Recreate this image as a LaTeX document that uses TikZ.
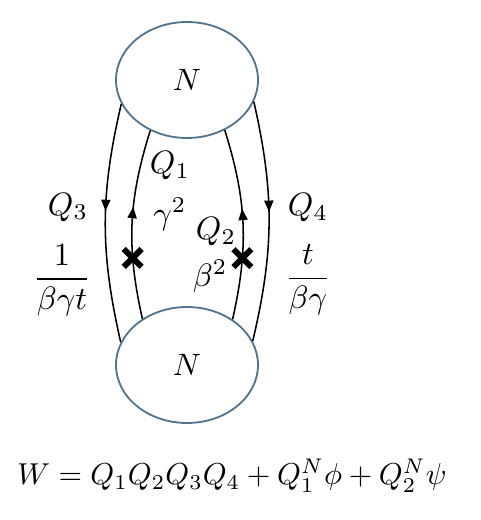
\documentclass[tikz,border=0pt]{standalone}
\usetikzlibrary{shapes.geometric,shapes.misc,arrows.meta,decorations.markings}
\definecolor{gaugeblue}{RGB}{84,116,142}

\begin{document}
\begin{tikzpicture}[x=1cm, y=1cm,
    gauge/.style={ellipse, draw=gaugeblue, line width=1.3pt, minimum width=3.55cm,
      minimum height=2.9cm, inner sep=0pt},
    big/.style={scale=2.3},
    field/.style={line width=1.1pt},
    flowtip/.style={postaction={decorate}, decoration={markings,
      mark=at position #1 with {\arrow{Triangle[length=8pt,width=6.5pt]}}}},
    mass/.style={cross out, draw, line width=4.2pt, minimum size=0.3cm, inner sep=0pt}]
  \useasboundingbox (0,0) rectangle (12,13);
  \node[gauge] (up) at (4.675,11.0) {\scalebox{2.2}{$N$}};
  \node[gauge] (down) at (4.675,3.875) {\scalebox{2.2}{$N$}};

  % bifundamentals: Q_3 and Q_4 run down, Q_1 and Q_2 run up
  \draw[field, flowtip=0.45] (up.200) to[bend right=13] (down.161);
  \draw[field, flowtip=0.59] (down.134) to[bend left=15] node[mass, pos=0.31] (m1) {} (up.234);
  \draw[field, flowtip=0.58] (down.45) to[bend right=15] node[mass, pos=0.31] (m2) {} (up.307);
  \draw[field, flowtip=0.46] (up.342) to[bend left=13] (down.20);

  % charges
  \node[big] (q3) at (1.7,7.82) {$Q_3$};
  \node[big] (c3) at (1.55,6.0) {$\displaystyle\frac{1}{\beta\gamma t}$};
  \node[big] (q1) at (4.25,8.85) {$Q_1$};
  \node[big, anchor=west] (c1) at (3.55,7.65) {$\gamma^2$};
  \node[big] (q2) at (5.4,7.2) {$Q_2$};
  \node[big] (c2) at (5.25,6.1) {$\beta^2$};
  \node[big] (q4) at (7.7,7.8) {$Q_4$};
  \node[big] (c4) at (7.7,6.0) {$\displaystyle\frac{t}{\beta\gamma}$};

  \node[scale=2.15] (w) at (5.8,1.1) {$W = Q_1Q_2Q_3Q_4 + Q_1^N\phi + Q_2^N\psi$};
\end{tikzpicture}
\end{document}
